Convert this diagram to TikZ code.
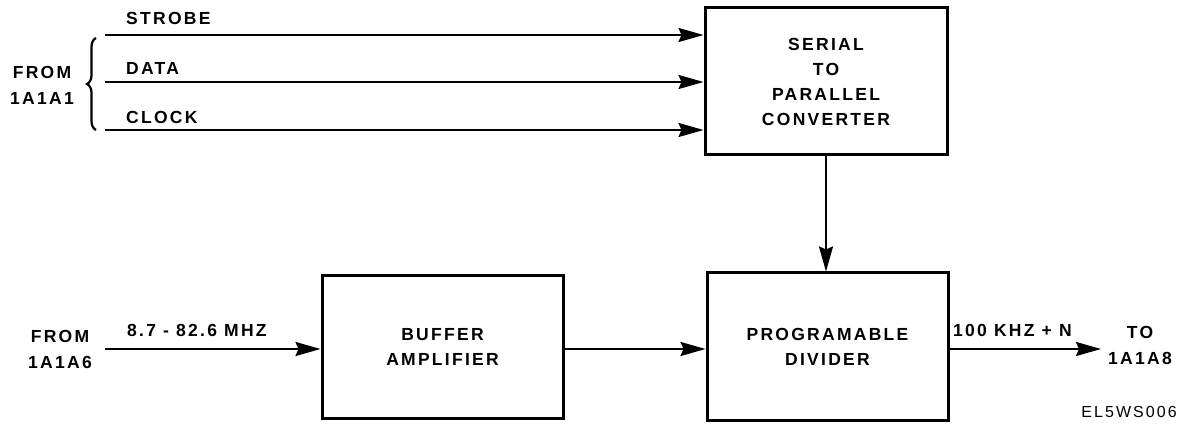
\documentclass[tikz,border=0pt]{standalone}
\usepackage{fontspec}
\setmainfont{Liberation Sans}[LetterSpace=13]
\usetikzlibrary{arrows.meta,decorations.pathreplacing}
\begin{document}
\begin{tikzpicture}[x=1pt,y=-1pt,
  lbl/.style={font=\bfseries\fontsize{17.5}{26}\selectfont, inner sep=0pt, align=center},
  blk/.style={draw, line width=3pt, inner sep=0pt, font=\bfseries\fontsize{17.5}{25}\selectfont, align=center},
  arr/.style={line width=2.2pt, -{Stealth[length=25pt,width=14pt,inset=3pt]}}]
\useasboundingbox (0,0) rectangle (1185,435);
% blocks
\node[blk, minimum width=242pt, minimum height=147pt] (spc) at (826,81.5) {SERIAL\\TO\\PARALLEL\\CONVERTER};
\node[blk, minimum width=241pt, minimum height=147pt] (div) at (827.5,346.5) {PROGRAMABLE\\DIVIDER};
\node[blk, minimum width=241pt, minimum height=143pt] (buf) at (442.5,347) {BUFFER\\AMPLIFIER};
% input lines
\coordinate (s0) at (105,35);
\coordinate (d0) at (105,82);
\coordinate (c0) at (105,130);
\draw[arr] (s0) -- (s0 -| spc.west);
\draw[arr] (d0) -- (d0 -| spc.west);
\draw[arr] (c0) -- (c0 -| spc.west);
\node[lbl, anchor=west] (tstrobe) at (126,18) {STROBE};
\node[lbl, anchor=west] (tdata) at (126,68) {DATA};
\node[lbl, anchor=west] (tclock) at (126,117) {CLOCK};
\draw[line width=2.2pt, decorate, decoration={brace, amplitude=9pt, mirror}] (96,38) -- (96,130);
\node[lbl, anchor=east] (from1) at (74,85) {FROM\\1A1A1};
% vertical
\draw[arr] (spc.south) -- (spc.south |- div.north);
% lower chain
\coordinate (in0) at (105,349);
\draw[arr] (in0) -- (in0 -| buf.west);
\node[lbl, anchor=east] (from6) at (92,349) {FROM\\1A1A6};
\node[lbl, anchor=south west] (freq) at (127,337) {8.7 - 82.6 MHZ};
\draw[arr] (buf.east |- in0) -- (in0 -| div.west);
\coordinate (out0) at (1101,349);
\draw[arr] (div.east |- in0) -- (out0);
\node[lbl, anchor=south west] (khz) at (953,337) {100 KHZ + N};
\node[lbl, anchor=west] (to8) at (1108,345) {TO\\1A1A8};
\node[lbl, anchor=east, font=\fontsize{16}{18}\selectfont] (code) at (1177,412) {EL5WS006};
\end{tikzpicture}
\end{document}
